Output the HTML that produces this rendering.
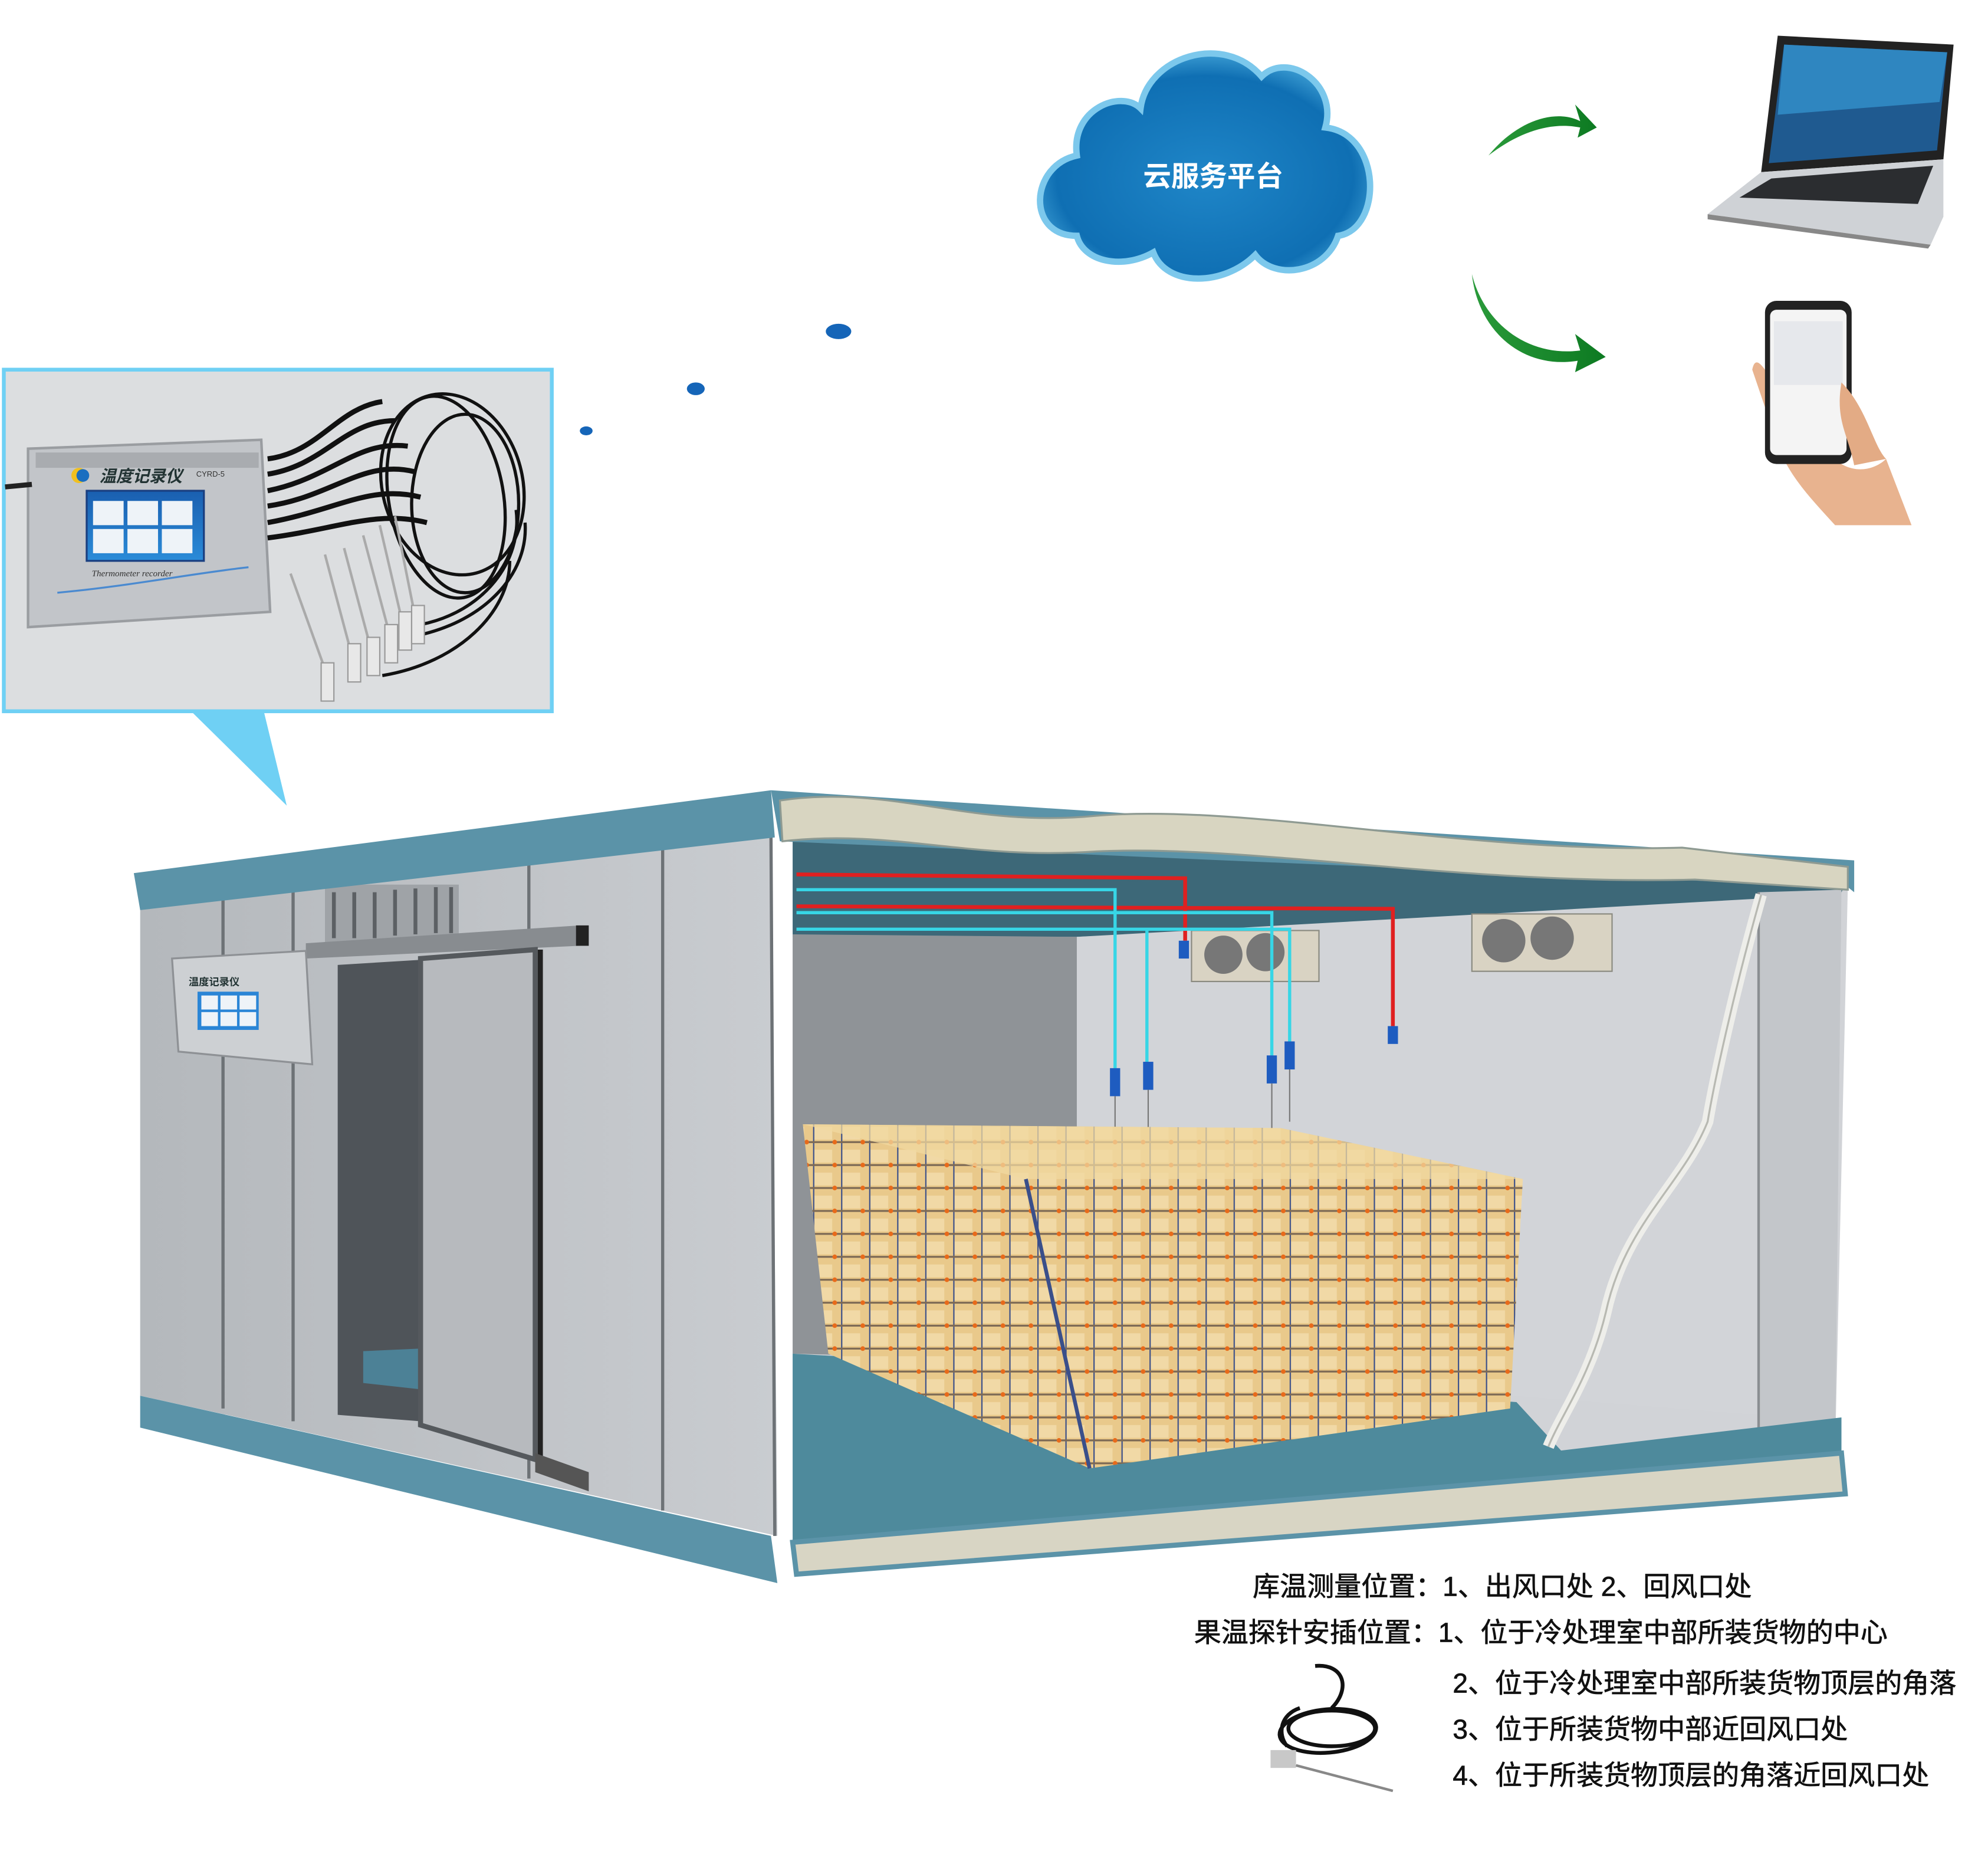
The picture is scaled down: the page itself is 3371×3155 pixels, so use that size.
<!DOCTYPE html>
<html><head><meta charset="utf-8"><style>
html,body{margin:0;padding:0;background:#fff;}
svg{display:block;}
</style></head><body>
<svg width="3371" height="3155" viewBox="0 0 1560 1460" xmlns="http://www.w3.org/2000/svg" font-family="'Liberation Sans','Noto Sans CJK SC',sans-serif">
<defs>
<radialGradient id="cloudG" cx="50%" cy="55%" r="60%"><stop offset="0" stop-color="#1f86c8"/><stop offset="0.75" stop-color="#0f6fb3"/><stop offset="1" stop-color="#4fb0e0"/></radialGradient>
<linearGradient id="wallG" x1="0" x2="1"><stop offset="0" stop-color="#b4b8bc"/><stop offset="1" stop-color="#c9ccd0"/></linearGradient>
<linearGradient id="arrG" x1="0" x2="1"><stop offset="0" stop-color="#2a9a3a"/><stop offset="1" stop-color="#0d7a22"/></linearGradient>
<pattern id="cargo" width="22" height="18" patternUnits="userSpaceOnUse">
<rect width="22" height="18" fill="#e9c98b"/><rect x="1" y="2" width="14" height="10" fill="#f1d9a6"/>
<line x1="0" y1="0" x2="0" y2="18" stroke="#3a4f8a" stroke-width="2"/>
<line x1="0" y1="14" x2="22" y2="14" stroke="#7d6a55" stroke-width="1.5"/>
<circle cx="17" cy="14" r="1.8" fill="#e86a1a"/>
</pattern>
<linearGradient id="scrG" x1="0" x2="0" y1="0" y2="1"><stop offset="0" stop-color="#1a5fb0"/><stop offset="1" stop-color="#2a8bd8"/></linearGradient>
</defs>

<g>
<path d="M845,185 C805,185 808,130 845,122 C840,85 880,70 895,85 C900,45 960,25 990,60 C1010,40 1050,65 1040,100 C1085,105 1085,180 1050,185 C1040,215 1000,220 985,200 C960,225 915,225 905,198 C880,212 850,205 845,185 Z" fill="url(#cloudG)" stroke="#7cc8ec" stroke-width="5"/>
<text x="952" y="146" text-anchor="middle" font-size="22" font-weight="bold" fill="#fff">云服务平台</text>
</g>

<path d="M1168,122 C1190,95 1220,85 1240,95 L1236,82 L1253,100 L1238,108 L1240,100 C1215,95 1190,105 1168,122 Z" fill="url(#arrG)"/>
<path d="M1155,215 C1165,255 1200,280 1240,275 L1236,262 L1260,280 L1236,292 L1238,283 C1195,290 1160,260 1155,215 Z" fill="url(#arrG)"/>

<g>
<path d="M1395,28 L1533,35 L1525,125 L1382,135 Z" fill="#222"/>
<path d="M1400,35 L1528,41 L1520,118 L1388,128 Z" fill="#1f5a90"/>
<path d="M1400,35 L1528,41 L1522,80 L1395,90 Z" fill="#2f86c0"/>
<path d="M1382,135 L1525,125 L1525,170 L1515,192 L1340,168 Z" fill="#cfd2d6"/>
<path d="M1390,140 L1517,130 L1505,160 L1365,155 Z" fill="#2b2d30"/>
<path d="M1340,168 L1515,192 L1513,195 L1340,172 Z" fill="#888"/>
</g>

<g>
<path d="M1375,290 C1380,265 1400,330 1420,330 C1440,380 1470,370 1480,360 L1500,412 L1440,412 C1420,390 1400,370 1392,340 Z" fill="#e8b38f"/>
<rect x="1385" y="236" width="68" height="128" rx="9" fill="#222"/>
<rect x="1389" y="243" width="60" height="114" rx="5" fill="#f4f4f4"/>
<rect x="1392" y="252" width="54" height="50" fill="#e6e8ec"/>
<path d="M1445,300 C1465,320 1470,350 1480,360 L1455,365 C1450,340 1440,330 1445,300Z" fill="#e3ab85"/>
</g>

<ellipse cx="658" cy="260" rx="10" ry="6" fill="#1565b8"/>
<ellipse cx="546" cy="305" rx="7" ry="5" fill="#1565b8"/>
<ellipse cx="460" cy="338" rx="5" ry="3.5" fill="#1565b8"/>

<polygon points="150,558 207,558 225,632" fill="#6fd0f4"/>
<rect x="3" y="290" width="430" height="268" fill="#dcdee0" stroke="#6fd0f4" stroke-width="3"/>
<g>
<path d="M22,352 L205,345 L212,480 L22,492 Z" fill="#c2c5c9" stroke="#9a9da1" stroke-width="2"/>
<rect x="28" y="355" width="175" height="12" fill="#a9acb0"/>
<circle cx="62" cy="373" r="6" fill="#f0c020"/><circle cx="65" cy="373" r="5" fill="#1a6ec0"/>
<text x="78" y="378" font-size="13" font-weight="bold" font-style="italic" fill="#233">温度记录仪</text>
<text x="154" y="374" font-size="6" fill="#333">CYRD-5</text>
<rect x="68" y="385" width="92" height="55" fill="url(#scrG)" stroke="#1a3f80" stroke-width="1.5"/>
<g fill="#eef3f8"><rect x="73" y="393" width="24" height="19"/><rect x="100" y="393" width="24" height="19"/><rect x="127" y="393" width="24" height="19"/><rect x="73" y="415" width="24" height="19"/><rect x="100" y="415" width="24" height="19"/><rect x="127" y="415" width="24" height="19"/></g>
<text x="72" y="452" font-size="7" font-style="italic" fill="#333" font-family="'Liberation Serif',serif">Thermometer recorder</text>
<path d="M45,465 C100,460 150,450 195,445" stroke="#4a8ad0" stroke-width="1.5" fill="none"/>
<path d="M4,382 L25,380" stroke="#222" stroke-width="4"/>
<g stroke="#111" stroke-width="4" fill="none">
<path d="M210,360 C250,355 265,320 300,315"/><path d="M210,372 C255,365 270,330 310,330"/><path d="M210,385 C260,375 280,345 320,350"/><path d="M210,397 C260,390 285,360 325,370"/><path d="M210,410 C265,400 290,380 330,390"/><path d="M210,422 C265,415 295,400 335,410"/>
</g>
<g stroke="#111" stroke-width="2.5" fill="none">
<ellipse cx="355" cy="380" rx="55" ry="72" transform="rotate(-15 355 380)"/>
<ellipse cx="350" cy="390" rx="45" ry="80" transform="rotate(-10 350 390)"/>
<ellipse cx="365" cy="395" rx="42" ry="70"/>
<path d="M330,490 C380,480 410,440 405,400"/><path d="M320,500 C380,490 415,450 412,410"/><path d="M300,530 C360,520 400,480 400,440"/>
</g>
<g stroke="#aaa" stroke-width="2"><line x1="228" y1="450" x2="255" y2="525"/><line x1="255" y1="435" x2="275" y2="510"/><line x1="270" y1="430" x2="290" y2="505"/><line x1="285" y1="420" x2="305" y2="495"/><line x1="298" y1="412" x2="315" y2="485"/><line x1="310" y1="405" x2="325" y2="480"/></g>
<g fill="#e8e8e8" stroke="#999" stroke-width="1"><rect x="252" y="520" width="10" height="30"/><rect x="273" y="505" width="10" height="30"/><rect x="288" y="500" width="10" height="30"/><rect x="302" y="490" width="10" height="30"/><rect x="313" y="480" width="10" height="30"/><rect x="323" y="475" width="10" height="30"/></g>
</g>

<polygon points="110,712 605,655 610,1205 110,1095" fill="url(#wallG)"/>
<g stroke="#6d7276" stroke-width="2.5">
<line x1="175" y1="705" x2="175" y2="1105"/><line x1="230" y1="698" x2="230" y2="1115"/><line x1="415" y1="678" x2="415" y2="1160"/><line x1="520" y1="666" x2="520" y2="1185"/><line x1="605" y1="656" x2="608" y2="1205"/>
</g>
<rect x="255" y="694" width="105" height="46" fill="#9fa3a7"/>
<g stroke="#5c6064" stroke-width="3"><line x1="262" y1="700" x2="262" y2="736"/><line x1="278" y1="700" x2="278" y2="736"/><line x1="294" y1="700" x2="294" y2="736"/><line x1="310" y1="698" x2="310" y2="734"/><line x1="326" y1="697" x2="326" y2="733"/><line x1="342" y1="696" x2="342" y2="732"/><line x1="354" y1="696" x2="354" y2="732"/></g>
<polygon points="240,740 455,726 455,742 240,752" fill="#888c90"/>
<rect x="452" y="726" width="10" height="16" fill="#222"/>
<polygon points="265,757 330,753 330,1115 265,1110" fill="#4f5459"/>
<polygon points="285,1060 330,1058 330,1090 285,1085" fill="#4c8196"/>
<polygon points="330,752 420,745 420,1145 330,1118" fill="#b7babe" stroke="#55595d" stroke-width="4"/>
<line x1="424" y1="745" x2="424" y2="1150" stroke="#222" stroke-width="4"/>
<polygon points="420,1140 462,1155 462,1170 420,1155" fill="#555"/>
<polygon points="135,752 240,746 245,835 140,825" fill="#cdd0d3" stroke="#8e9195" stroke-width="1.5"/>
<text x="148" y="773" font-size="8" font-weight="bold" fill="#233">温度记录仪</text>
<rect x="155" y="778" width="48" height="30" fill="#2a85d6"/>
<g fill="#eef3f8"><rect x="158" y="781" width="13" height="11"/><rect x="173" y="781" width="13" height="11"/><rect x="188" y="781" width="13" height="11"/><rect x="158" y="794" width="13" height="11"/><rect x="173" y="794" width="13" height="11"/><rect x="188" y="794" width="13" height="11"/></g>
<polygon points="105,685 605,620 608,657 110,714" fill="#5b93a8"/>
<polygon points="110,1095 605,1205 610,1242 110,1120" fill="#5b93a8"/>

<polygon points="622,655 1450,695 1440,1140 622,1205" fill="#d1d3d7"/>
<polygon points="622,655 1450,690 1440,710 845,735 622,735" fill="#3d6878"/>
<polygon points="622,733 845,735 845,1068 622,1062" fill="#8f9397"/>
<polygon points="845,735 1380,705 1380,1110 845,1068" fill="#d2d4d8"/>
<polygon points="1380,700 1445,698 1440,1140 1380,1140" fill="#c3c6ca"/>
<line x1="1380" y1="700" x2="1380" y2="1140" stroke="#8a8e92" stroke-width="2"/>
<polygon points="622,1062 850,1075 1190,1100 1225,1138 1445,1112 1445,1140 622,1210" fill="#4e8a9c"/>
<polygon points="622,1210 1445,1140 1448,1172 625,1235" fill="#d8d5c4" stroke="#5b93a8" stroke-width="4"/>
<polygon points="605,620 1455,675 1455,700 1450,696 612,660" fill="#5b93a8"/>
<path d="M612,628 C700,615 760,650 860,640 C980,630 1150,670 1320,665 L1450,680 L1450,698 L1330,690 C1150,695 980,662 860,668 C760,675 700,650 614,660 Z" fill="#d8d5c1" stroke="#8e9a92" stroke-width="1.5"/>
<path d="M1382,702 C1360,780 1345,850 1340,880 C1320,930 1275,960 1260,1030 C1248,1080 1225,1110 1215,1135" stroke="#eeeeea" stroke-width="9" fill="none"/>
<path d="M1382,702 C1360,780 1345,850 1340,880 C1320,930 1275,960 1260,1030 C1248,1080 1225,1110 1215,1135" stroke="#b8b9b2" stroke-width="1.5" fill="none"/>
<g><rect x="935" y="730" width="100" height="40" fill="#d9d3c3" stroke="#8a8a80"/><circle cx="960" cy="749" r="15" fill="#777"/><circle cx="993" cy="747" r="15" fill="#777"/>
<rect x="1155" y="717" width="110" height="45" fill="#d9d3c3" stroke="#8a8a80"/><circle cx="1180" cy="738" r="17" fill="#777"/><circle cx="1218" cy="736" r="17" fill="#777"/></g>
<g fill="none" stroke-width="3">
<path d="M625,686 L930,689 L930,738" stroke="#e02020"/>
<path d="M625,711 L1093,713 L1093,805" stroke="#e02020"/>
</g>
<g fill="none" stroke-width="2.5" stroke="#37d6e6">
<path d="M625,698 L875,698 L875,840"/>
<path d="M625,716 L998,716 L998,830"/>
<path d="M625,729 L1012,729 L1012,818"/>
<path d="M900,730 L900,835"/>
</g>
<g fill="#1e5cc0"><rect x="925" y="738" width="8" height="14"/><rect x="1089" y="805" width="8" height="14"/><rect x="871" y="838" width="8" height="22"/><rect x="897" y="833" width="8" height="22"/><rect x="994" y="828" width="8" height="22"/><rect x="1008" y="817" width="8" height="22"/></g>
<g stroke="#777" stroke-width="1"><line x1="875" y1="860" x2="875" y2="905"/><line x1="901" y1="855" x2="901" y2="900"/><line x1="998" y1="850" x2="998" y2="885"/><line x1="1012" y1="839" x2="1012" y2="880"/></g>
<polygon points="630,882 1005,885 1195,925 1185,1105 855,1152 650,1062" fill="url(#cargo)"/>
<polygon points="630,882 1005,885 1195,925 805,925" fill="#f0d8a0" opacity="0.75"/>
<line x1="805" y1="925" x2="855" y2="1152" stroke="#3a4f8a" stroke-width="3"/>

<g font-size="21.3" fill="#111" stroke="#111" stroke-width="0.35">
<text x="983" y="1252">库温测量位置：1、出风口处  2、回风口处</text>
<text x="937" y="1288">果温探针安插位置：1、位于冷处理室中部所装货物的中心</text>
<text x="1140" y="1328">2、位于冷处理室中部所装货物顶层的角落</text>
<text x="1140" y="1364">3、位于所装货物中部近回风口处</text>
<text x="1140" y="1400">4、位于所装货物顶层的角落近回风口处</text>
</g>
<g fill="none" stroke="#111" stroke-width="3">
<path d="M1032,1307 C1055,1305 1060,1325 1045,1340"/>
<ellipse cx="1042" cy="1358" rx="38" ry="17" transform="rotate(-5 1042 1358)"/>
<ellipse cx="1045" cy="1356" rx="34" ry="14"/>
<path d="M1010,1370 C1002,1360 1005,1345 1020,1340"/>
</g>
<rect x="997" y="1373" width="20" height="14" fill="#c8c8c8"/>
<line x1="1017" y1="1385" x2="1093" y2="1405" stroke="#888" stroke-width="2"/>
</svg>
</body></html>
